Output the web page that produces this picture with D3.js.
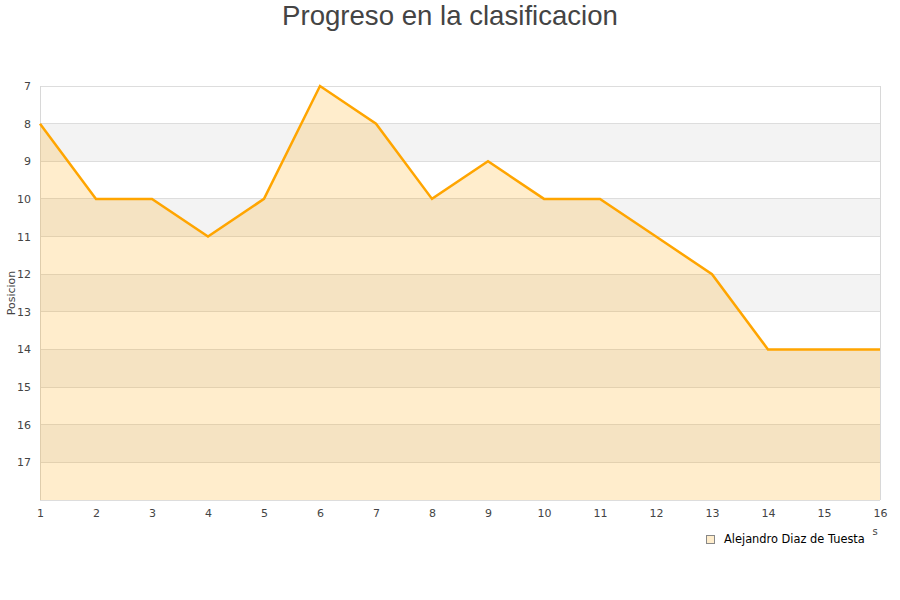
<!DOCTYPE html>
<html><head><meta charset="utf-8">
<script src="https://cdn.jsdelivr.net/npm/d3@7"></script>
<style>body{margin:0;background:#fff}</style>
</head><body>
<svg id="c" width="900" height="600"></svg>
<script>
const rounds = [1,2,3,4,5,6,7,8,9,10,11,12,13,14,15,16];
const positions = [8,10,10,11,10,7,8,10,9,10,10,11,12,14,14,14];
const yTicks = [7,8,9,10,11,12,13,14,15,16,17];
const seriesName = "Alejandro Diaz de Tuesta";
const title = "Progreso en la clasificacion";

const svg = d3.select("#c");
const L=40,R=880,T=86,B=500;
const x = d3.scaleLinear().domain([1,16]).range([L,R]);
const y = d3.scaleLinear().domain([7,18]).range([T,B]);

// bands
const bands = d3.range(7,18);
svg.selectAll("rect.band").data(bands).enter().append("rect")
  .attr("x",L).attr("width",R-L)
  .attr("y",d=>y(d)).attr("height",d=>y(d+1)-y(d))
  .attr("fill",d=>d%2===0?"#f3f3f3":"#ffffff");
// grid
svg.selectAll("line.g").data(d3.range(7,19)).enter().append("line")
  .attr("x1",L).attr("x2",R).attr("y1",d=>y(d)).attr("y2",d=>y(d))
  .attr("stroke","#dddddd").attr("stroke-width",1).attr("shape-rendering","crispEdges");
// borders
svg.append("line").attr("x1",L).attr("x2",L).attr("y1",T).attr("y2",B).attr("stroke","#d8d8d8").attr("shape-rendering","crispEdges");
svg.append("line").attr("x1",R).attr("x2",R).attr("y1",T).attr("y2",B).attr("stroke","#d8d8d8").attr("shape-rendering","crispEdges");

const data = rounds.map((r,i)=>({r,p:positions[i]}));
svg.append("path").datum(data)
  .attr("d",d3.area().x(d=>x(d.r)).y0(B).y1(d=>y(d.p)))
  .attr("fill","#ffa500").attr("fill-opacity",0.2);
svg.append("path").datum(data)
  .attr("d",d3.line().x(d=>x(d.r)).y(d=>y(d.p)))
  .attr("fill","none").attr("stroke","#ffa500").attr("stroke-width",2.5);

// axes
const font = "DejaVu Sans, sans-serif";
const ya = svg.append("g").attr("transform",`translate(${L},0)`)
  .call(d3.axisLeft(y).tickValues(yTicks).tickSize(0).tickPadding(9));
ya.select(".domain").remove();
ya.selectAll("text").attr("font-family",font).attr("font-size",11).attr("fill","#444");
const xa = svg.append("g").attr("transform",`translate(0,${B})`)
  .call(d3.axisBottom(x).tickValues(rounds).tickSize(0).tickPadding(9));
xa.select(".domain").remove();
xa.selectAll("text").attr("font-family",font).attr("font-size",11).attr("fill","#444");

svg.append("text").attr("transform","translate(15,293) rotate(-90)")
  .attr("text-anchor","middle").attr("font-family",font).attr("font-size",11).attr("fill","#444").text("Posicion");
svg.append("text").attr("x",875).attr("y",535).attr("text-anchor","middle")
  .attr("font-family",font).attr("font-size",10).attr("fill","#444").text("s");

svg.append("text").attr("x",450).attr("y",25).attr("text-anchor","middle")
  .attr("font-family","Liberation Sans, Arial, sans-serif").attr("font-size",27.6).attr("fill","#444").text(title);

// legend
svg.append("rect").attr("x",706.5).attr("y",535.5).attr("width",8).attr("height",8)
  .attr("fill","#ffedcc").attr("stroke","#888");
svg.append("text").attr("x",724).attr("y",543).attr("font-family",font).attr("font-size",11.4).attr("fill","#000").text(seriesName);
</script>
</body></html>
